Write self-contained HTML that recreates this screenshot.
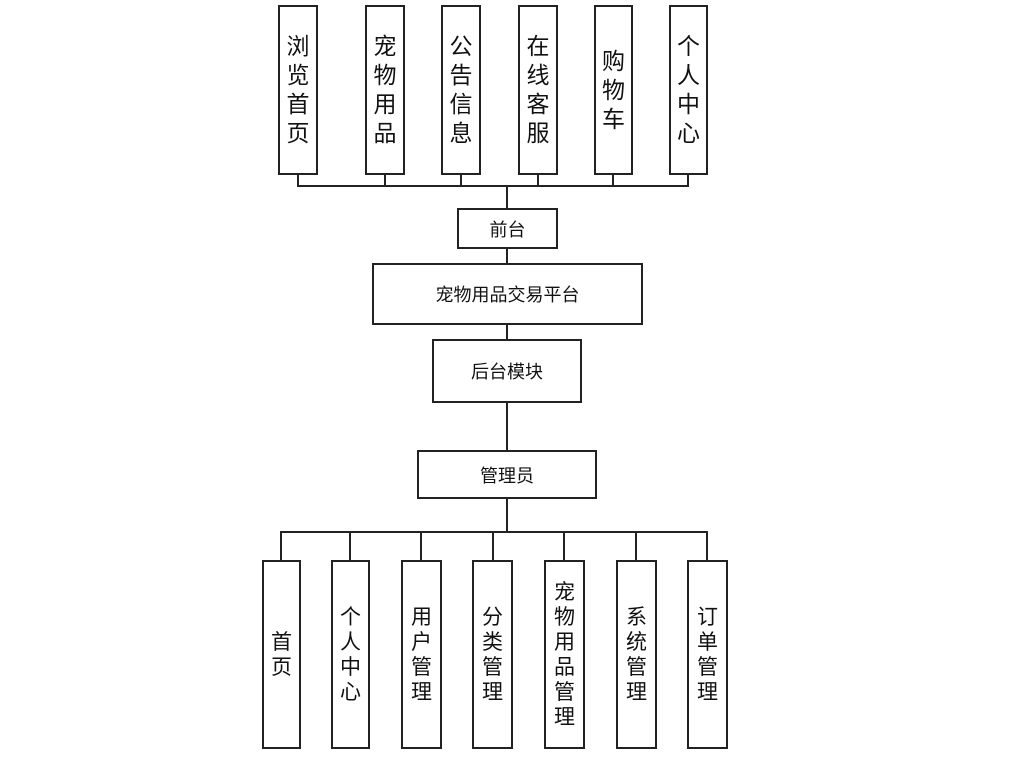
<!DOCTYPE html>
<html><head><meta charset="utf-8"><style>
body{margin:0;width:1024px;height:760px;background:#fff;position:relative;overflow:hidden;font-family:"Liberation Sans","Noto Sans CJK SC",sans-serif;color:#111}
.b{position:absolute;box-sizing:border-box;border:2px solid #222;background:#fff;display:flex;align-items:center;justify-content:center;text-align:center}
.v{font-size:23px;line-height:29px}
.w{font-size:21px;line-height:25px}
.h{font-size:18px}
svg{position:absolute;left:0;top:0}
</style></head><body>
<svg width="1024" height="760"><g stroke="#222" stroke-width="2" fill="none">
<path d="M298 174V186H688V174M385 174V186M461 174V186M538 174V186M613 174V186M507 186V208"/>
<path d="M507 248V263M507 324V339M507 402V450M507 498V532"/>
<path d="M281 560V532H707V560M350 532V560M421 532V560M493 532V560M564 532V560M636 532V560"/>
</g></svg>
<div class="b v" style="left:278px;top:5px;width:40px;height:170px">浏<br>览<br>首<br>页</div>
<div class="b v" style="left:365px;top:5px;width:40px;height:170px">宠<br>物<br>用<br>品</div>
<div class="b v" style="left:441px;top:5px;width:40px;height:170px">公<br>告<br>信<br>息</div>
<div class="b v" style="left:518px;top:5px;width:40px;height:170px">在<br>线<br>客<br>服</div>
<div class="b v" style="left:594px;top:5px;width:39px;height:170px">购<br>物<br>车</div>
<div class="b v" style="left:669px;top:5px;width:39px;height:170px">个<br>人<br>中<br>心</div>
<div class="b h" style="left:457px;top:208px;width:101px;height:41px">前台</div>
<div class="b h" style="left:372px;top:263px;width:271px;height:62px">宠物用品交易平台</div>
<div class="b h" style="left:432px;top:339px;width:150px;height:64px">后台模块</div>
<div class="b h" style="left:417px;top:450px;width:180px;height:49px">管理员</div>
<div class="b w" style="left:262px;top:560px;width:39px;height:189px">首<br>页</div>
<div class="b w" style="left:331px;top:560px;width:39px;height:189px">个<br>人<br>中<br>心</div>
<div class="b w" style="left:401px;top:560px;width:41px;height:189px">用<br>户<br>管<br>理</div>
<div class="b w" style="left:472px;top:560px;width:41px;height:189px">分<br>类<br>管<br>理</div>
<div class="b w" style="left:544px;top:560px;width:41px;height:189px">宠<br>物<br>用<br>品<br>管<br>理</div>
<div class="b w" style="left:616px;top:560px;width:41px;height:189px">系<br>统<br>管<br>理</div>
<div class="b w" style="left:687px;top:560px;width:41px;height:189px">订<br>单<br>管<br>理</div>
</body></html>
